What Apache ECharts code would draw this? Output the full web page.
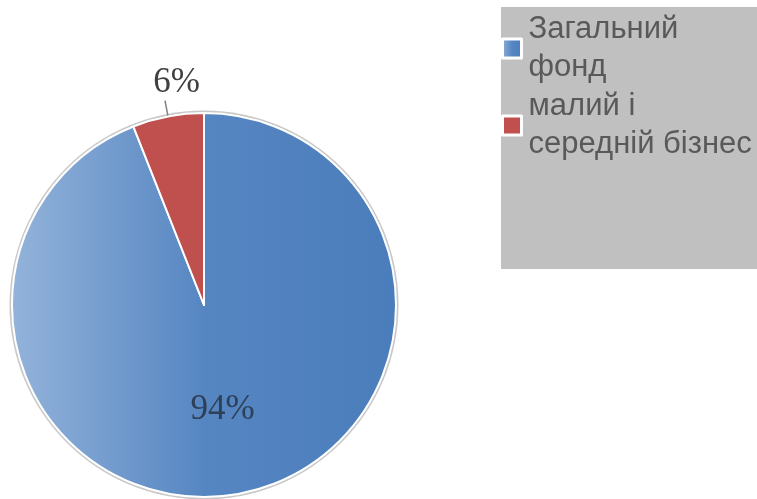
<!DOCTYPE html>
<html>
<head>
<meta charset="utf-8">
<script src="https://cdn.jsdelivr.net/npm/echarts@6/dist/echarts.min.js"></script>
<style>
    html, body { margin: 0; padding: 0; background: #fff; }
    #chart { width: 757px; height: 499px; }
</style>
</head>
<body>
<div id="chart"></div>
<script>
var categories = ["Загальний\nфонд", "малий і\nсередній бізнес"];
var values = [94, 6];
var colors = ["#4f81bd", "#c0504d"];

var chart = echarts.init(document.getElementById("chart"));

var blueFill = new echarts.graphic.LinearGradient(0, 0, 1, 0, [
    {offset: 0, color: "#93b3da"},
    {offset: 0.5, color: "#5686c2"},
    {offset: 1, color: "#4a7dbb"}
]);

var option = {
    animation: false,
    color: colors,
    graphic: [{
        type: "rect",
        left: 501,
        top: 7,
        shape: {width: 256, height: 262},
        style: {fill: "#c0c0c0"},
        z: 0
    }],
    legend: {
        orient: "vertical",
        left: 496,
        top: 5,
        itemGap: 0,
        itemWidth: 19,
        itemHeight: 19,
        icon: "rect",
        data: categories,
        itemStyle: {borderColor: "#ffffff", borderWidth: 3},
        textStyle: {
            fontFamily: "'Liberation Sans', Arial, sans-serif",
            fontSize: 31,
            lineHeight: 38.5,
            color: "#595959",
            padding: [0, 0, 0, 2]
        },
        z: 5
    },
    series: [{
        type: "pie",
        silent: true,
        center: [204, 305],
        radius: [0, 194.5],
        data: [{value: 1, name: ""}],
        itemStyle: {color: "#c8c8c8"},
        label: {show: false},
        labelLine: {show: false},
        z: 1
    }, {
        type: "pie",
        center: [204, 305],
        radius: [0, 192],
        startAngle: 90,
        clockwise: true,
        silent: true,
        data: categories.map(function (name, i) {
            var item = {
                name: name,
                value: values[i],
                itemStyle: {color: i === 0 ? blueFill : colors[i]}
            };
            if (i === 0) {
                item.label = {position: "inside", color: "#2e4058"};
            } else {
                item.label = {position: "outside", color: "#404040"};
            }
            return item;
        }),
        itemStyle: {borderColor: "#ffffff", borderWidth: 2},
        label: {
            formatter: "{c}%",
            fontFamily: "'Liberation Serif', 'Times New Roman', serif",
            fontSize: 35
        },
        labelLine: {
            length: 16,
            length2: 0,
            lineStyle: {color: "#808080", width: 1.5}
        },
        labelLayout: function (params) {
            if (params.dataIndex === 1) {
                return {dx: 40, dy: -18};
            }
            return {dy: 8};
        },
        z: 2
    }]
};

chart.setOption(option);
</script>
</body>
</html>
